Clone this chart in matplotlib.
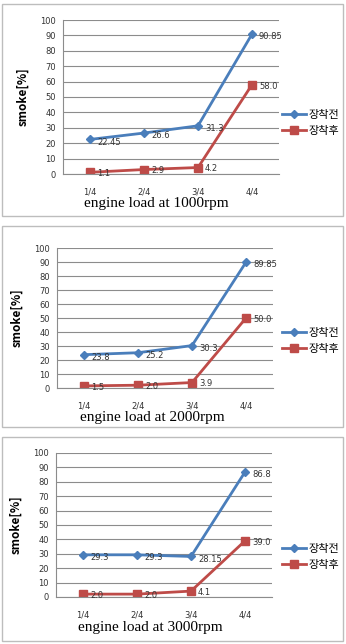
import matplotlib.pyplot as plt
import matplotlib.patches as patches

plt.rcParams["font.family"] = ["Noto Sans CJK KR", "DejaVu Sans"]

loads = ["1/4", "2/4", "3/4", "4/4"]
rpms = ["1000", "2000", "3000"]
before = [
    [22.45, 26.6, 31.3, 90.85],
    [23.8, 25.2, 30.3, 89.85],
    [29.3, 29.3, 28.15, 86.8],
]
after = [
    [1.1, 2.9, 4.2, 58.0],
    [1.5, 2.0, 3.9, 50.0],
    [2.0, 2.0, 4.1, 39.0],
]
series_names = ["장착전", "장착후"]

BLUE = "#4A7EBB"
RED = "#BE4B48"
NUM_FONT = ["DejaVu Sans"]
W, H = 346, 644

# panel boxes (x0, y0, x1, y1) in pixels from top-left, axes boxes too
frames = [(2, 4, 343, 216), (2, 226, 343, 427), (2, 437, 343, 641)]
axboxes = [(63, 20, 279, 174), (57, 248, 273, 388), (56, 453, 272, 597)]
legend_y = [115, 333, 549]
xlabel_pos = [(156, 204), (152, 418), (150, 628)]


def px(x0, y0, x1, y1):
    return [x0 / W, 1 - y1 / H, (x1 - x0) / W, (y1 - y0) / H]


fig = plt.figure(figsize=(W / 100, H / 100), dpi=100)

for i in range(3):
    x0, y0, x1, y1 = frames[i]
    fig.patches.append(
        patches.Rectangle(
            (x0 / W, 1 - y1 / H), (x1 - x0) / W, (y1 - y0) / H,
            transform=fig.transFigure, fill=False, edgecolor="#bdbdbd", linewidth=1,
        )
    )

    ax = fig.add_axes(px(*axboxes[i]))
    xs = range(len(loads))
    l1, = ax.plot(xs, before[i], color=BLUE, marker="D", markersize=4, linewidth=2)
    l2, = ax.plot(xs, after[i], color=RED, marker="s", markersize=6, linewidth=2)
    for x, v in zip(xs, before[i]):
        ax.annotate(str(v), (x, v), xytext=(5, -2), textcoords="offset points",
                    fontsize=6, va="center", color="#333333", family=NUM_FONT)
    for x, v in zip(xs, after[i]):
        ax.annotate(str(v), (x, v), xytext=(5, -1), textcoords="offset points",
                    fontsize=6, va="center", color="#333333", family=NUM_FONT)

    ax.set_xlim(-0.5, 3.5)
    ax.set_ylim(0, 100)
    ax.set_yticks(range(0, 101, 10))
    ax.set_xticks(list(xs))
    ax.set_xticklabels(loads)
    ax.tick_params(axis="both", labelsize=6, length=0, colors="#333333", pad=5)
    ax.tick_params(axis="x", pad=10)
    for lab in ax.get_xticklabels() + ax.get_yticklabels():
        lab.set_family(NUM_FONT)
    ax.grid(axis="y", color="#8c8c8c", linewidth=0.8)
    ax.set_axisbelow(True)
    for s in ["top", "right"]:
        ax.spines[s].set_visible(False)
    for s in ["left", "bottom"]:
        ax.spines[s].set_color("#8c8c8c")
        ax.spines[s].set_linewidth(0.8)

    ax.set_ylabel("smoke[%]", fontsize=8.5, fontweight="bold", labelpad=8)

    lx, ly = xlabel_pos[i]
    fig.text(lx / W, 1 - ly / H, f"engine load at {rpms[i]}rpm",
             ha="center", va="center", fontsize=11,
             family=["Liberation Serif", "DejaVu Serif"])

    fig.legend([l1, l2], series_names, loc="center left",
               bbox_to_anchor=(282 / W, 1 - (legend_y[i] + 8) / H),
               frameon=False, fontsize=8, handlelength=2.2, handletextpad=0.2,
               labelspacing=0.6, borderaxespad=0, borderpad=0)

fig.savefig("out.png", dpi=100)
